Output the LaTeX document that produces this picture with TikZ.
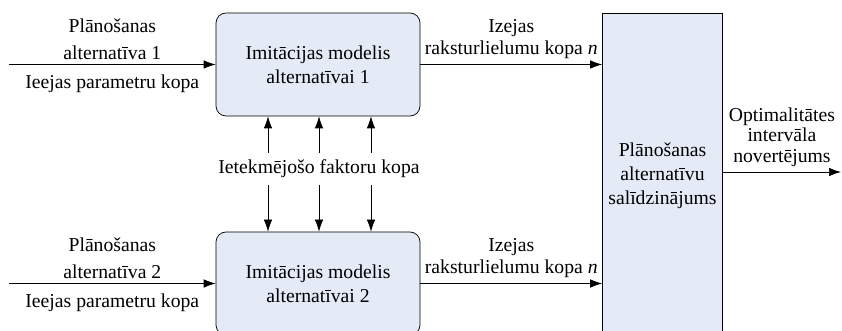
\documentclass[tikz,border=0pt]{standalone}
\usepackage{fontspec}
\setmainfont{Liberation Serif}
\usetikzlibrary{arrows.meta,positioning}
\definecolor{boxfill}{HTML}{E4EBF6}

\begin{document}
\begin{tikzpicture}[>={Latex[length=2.4mm,width=1.7mm]},
    font=\rmfamily\fontsize{11.2}{13.5}\selectfont]
        \tikzset{model/.style={draw,
                fill=boxfill,
                shape=rectangle,
                align=center,
                rounded corners=0.2cm,
                minimum width=4.08cm,
                minimum height=2.06cm
            },
            compare/.style={draw,
                fill=boxfill,
                align=center,
                minimum width=2.38cm,
                minimum height=6.5cm
            },
            lbl/.style={align=center, inner sep=3pt},
            inlbl/.style={align=center, inner sep=2.5pt,
                font=\rmfamily\fontsize{11.2}{15.3}\selectfont},
            belowlbl/.style={align=center, inner sep=5.5pt},
        }
\useasboundingbox (0,0) rectangle (16.84,-6.62);
\clip (0,0) rectangle (16.84,-6.62);
        \node [model] (mod1) at (6.36,-1.29)
            {Imitācijas modelis\\alternatīvai 1};
        \node [model] (mod2) at (6.36,-5.67)
            {Imitācijas modelis\\alternatīvai 2};
        \node [compare, anchor=north] (cmp) at (13.25,-0.26)
            {Plānošanas\\alternatīvu\\salīdzinājums};
        \node [lbl, inner sep=4pt] (faktori) at (6.38,-3.38)
            {Ietekmējošo faktoru kopa};
        \coordinate (in1) at (0.18,-1.29);
        \coordinate (in2) at (0.18,-5.67);
        \coordinate (out) at (16.82,-3.44);
%% paths
\draw[->] (in1) -- node[above, inlbl] (plan1) {Plānošanas\\alternatīva 1}
    node[below, belowlbl] (ieeja1) {Ieejas parametru kopa} (mod1.west);
\draw[->] (in2) -- node[above, inlbl] (plan2) {Plānošanas\\alternatīva 2}
    node[below, belowlbl] (ieeja2) {Ieejas parametru kopa} (mod2.west);
\draw[->] (mod1.east) -- node[above, lbl, font=\rmfamily\fontsize{11.2}{12.5}\selectfont] (izeja1)
    {Izejas\\raksturlielumu kopa \textit{n}} (mod1.east -| cmp.west);
\draw[->] (mod2.east) -- node[above, lbl, font=\rmfamily\fontsize{11.2}{12.5}\selectfont] (izeja2)
    {Izejas\\raksturlielumu kopa \textit{n}} (mod2.east -| cmp.west);
\draw[->] (cmp.east |- out) -- node[above, lbl, font=\rmfamily\fontsize{11.2}{11.6}\selectfont] (optim)
    {Optimalitātes\\intervāla\\novertējums} (out);
\foreach \dx in {-1.02,0,1.04} {
    \path ([xshift=\dx cm]faktori.north) coordinate (ft)
          ([xshift=\dx cm]faktori.south) coordinate (fb);
    \draw[->] (ft) -- (ft |- mod1.south);
    \draw[->] (fb) -- (fb |- mod2.north);
}
\end{tikzpicture}
\end{document}
